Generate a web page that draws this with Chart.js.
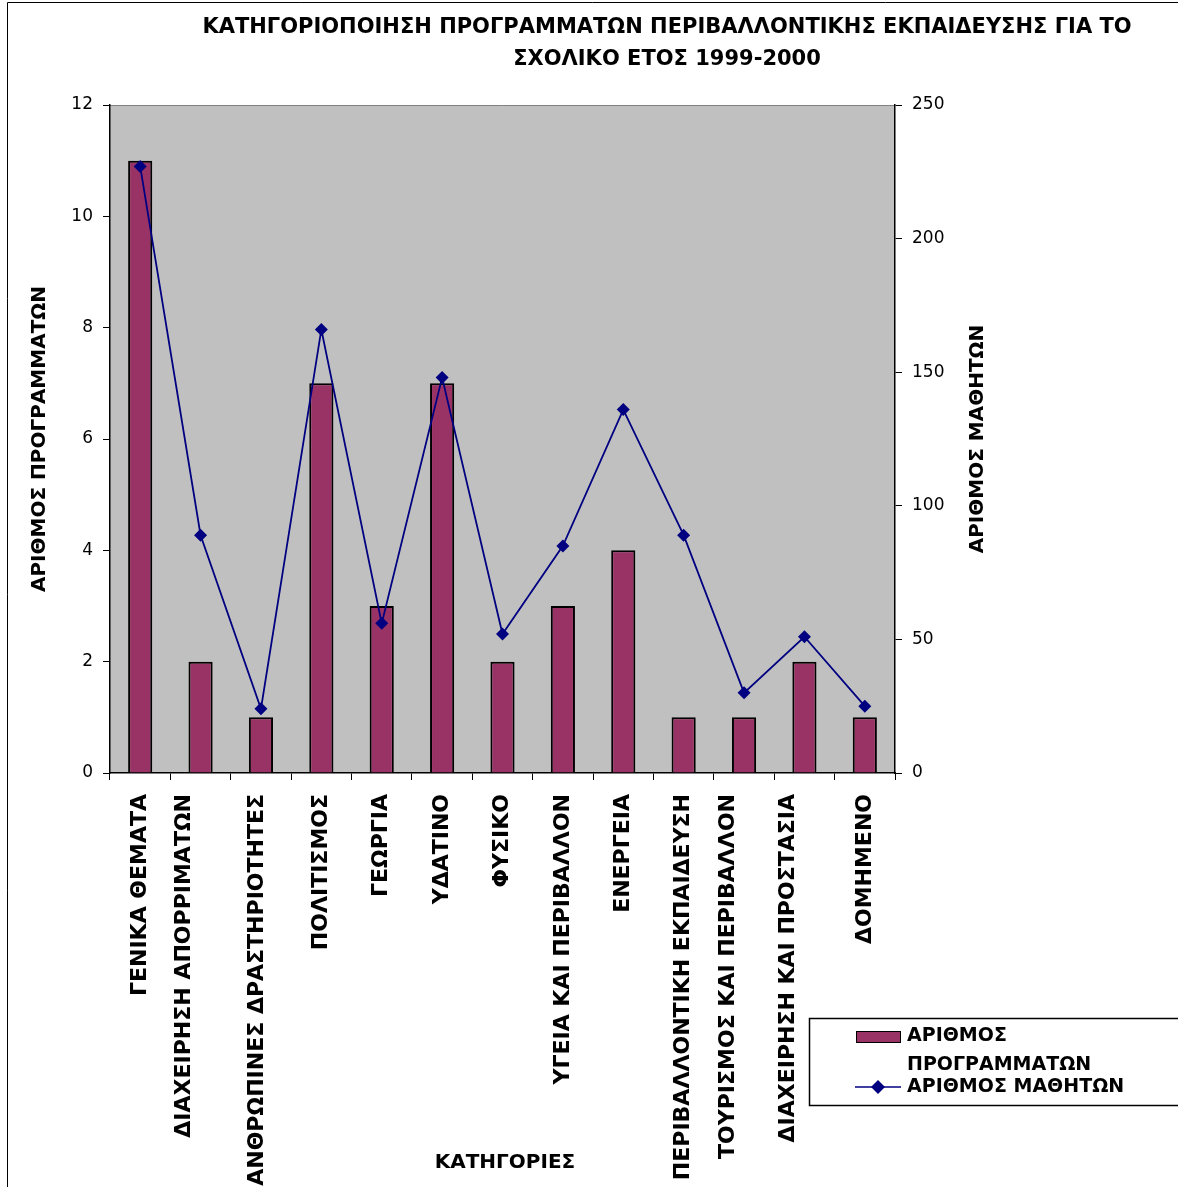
<!DOCTYPE html>
<html>
<head>
<meta charset="utf-8">
<script src="https://cdn.jsdelivr.net/npm/chart.js@4.4.1/dist/chart.umd.min.js"></script>
<style>
    body { margin: 0; background: #fff; }
    #wrap { width: 1178px; height: 1187px; }
</style>
</head>
<body>
<div id="wrap"><canvas id="envChart" width="1178" height="1187"></canvas></div>
<script>
// Categories and values
const categories = [
    'ΓΕΝΙΚΑ ΘΕΜΑΤΑ', 'ΔΙΑΧΕΙΡΗΣΗ ΑΠΟΡΡΙΜΑΤΩΝ', 'ΑΝΘΡΩΠΙΝΕΣ ΔΡΑΣΤΗΡΙΟΤΗΤΕΣ',
    'ΠΟΛΙΤΙΣΜΟΣ', 'ΓΕΩΡΓΙΑ', 'ΥΔΑΤΙΝΟ', 'ΦΥΣΙΚΟ', 'ΥΓΕΙΑ ΚΑΙ ΠΕΡΙΒΑΛΛΟΝ',
    'ΕΝΕΡΓΕΙΑ', 'ΠΕΡΙΒΑΛΛΟΝΤΙΚΗ ΕΚΠΑΙΔΕΥΣΗ', 'ΤΟΥΡΙΣΜΟΣ ΚΑΙ ΠΕΡΙΒΑΛΛΟΝ',
    'ΔΙΑΧΕΙΡΗΣΗ ΚΑΙ ΠΡΟΣΤΑΣΙΑ', 'ΔΟΜΗΜΕΝΟ'
];
const programmes = [11, 2, 1, 7, 3, 7, 2, 3, 4, 1, 1, 2, 1];
const students = [227, 89, 24, 166, 56, 148, 52, 85, 136, 89, 30, 51, 25];

const leftTicks = [0, 2, 4, 6, 8, 10, 12];
const rightTicks = [0, 50, 100, 150, 200, 250];

const titleLines = [
    'ΚΑΤΗΓΟΡΙΟΠΟΙΗΣΗ ΠΡΟΓΡΑΜΜΑΤΩΝ ΠΕΡΙΒΑΛΛΟΝΤΙΚΗΣ ΕΚΠΑΙΔΕΥΣΗΣ ΓΙΑ ΤΟ',
    'ΣΧΟΛΙΚΟ ΕΤΟΣ 1999-2000'
];

// sideways nudge of some category labels, as in the original
const labelShift = [0, -16, -4, 0, 0, 0, 0, 0, 0, 0, -16, -16, 0];

const BAR_COLOR = '#993366';
const LINE_COLOR = '#000080';

/**
 * Draws plot background, outer frame, titles, category labels and the boxed legend
 */
const decorPlugin = {
    id: 'decor',
    beforeDraw(chart) {
        const ctx = chart.ctx;
        const a = chart.chartArea;
        ctx.save();
        ctx.fillStyle = '#fff';
        ctx.fillRect(0, 0, chart.width, chart.height);
        // plot area
        ctx.fillStyle = '#c0c0c0';
        ctx.fillRect(a.left, a.top, a.right - a.left, a.bottom - a.top);
        ctx.strokeStyle = '#808080';
        ctx.lineWidth = 1;
        ctx.beginPath();
        ctx.moveTo(a.left, a.top + 0.5);
        ctx.lineTo(a.right, a.top + 0.5);
        ctx.stroke();
        // outer chart frame
        ctx.strokeStyle = '#000';
        ctx.beginPath();
        ctx.moveTo(7.5, chart.height);
        ctx.lineTo(7.5, 2.5);
        ctx.lineTo(chart.width, 2.5);
        ctx.stroke();
        ctx.restore();
    },
    afterDraw(chart) {
        const ctx = chart.ctx;
        const a = chart.chartArea;
        const xScale = chart.scales.x;
        const midY = (a.top + a.bottom) / 2;
        ctx.save();
        ctx.fillStyle = '#000';
        ctx.textAlign = 'center';
        ctx.textBaseline = 'middle';

        // title
        ctx.font = 'bold 21px "DejaVu Sans"';
        ctx.fillText(titleLines[0], 667, 28);
        ctx.fillText(titleLines[1], 667, 60);

        // category labels, rotated, reading upwards
        ctx.font = 'bold 22px "DejaVu Sans"';
        ctx.textAlign = 'right';
        categories.forEach(function(label, i) {
            ctx.save();
            ctx.translate(xScale.getPixelForValue(i) + labelShift[i], a.bottom + 21);
            ctx.rotate(-Math.PI / 2);
            ctx.fillText(label, 0, 0);
            ctx.restore();
        });
        ctx.textAlign = 'center';

        // axis titles
        ctx.font = 'bold 20px "DejaVu Sans"';
        ctx.save();
        ctx.translate(40, midY);
        ctx.rotate(-Math.PI / 2);
        ctx.fillText('ΑΡΙΘΜΟΣ ΠΡΟΓΡΑΜΜΑΤΩΝ', 0, 0);
        ctx.restore();

        ctx.save();
        ctx.translate(978, midY);
        ctx.rotate(-Math.PI / 2);
        ctx.fillText('ΑΡΙΘΜΟΣ ΜΑΘΗΤΩΝ', 0, 0);
        ctx.restore();

        ctx.fillText('ΚΑΤΗΓΟΡΙΕΣ', 505, 1163);

        // legend box
        ctx.fillStyle = '#fff';
        ctx.fillRect(809, 1018, 380, 87);
        ctx.strokeStyle = '#000';
        ctx.lineWidth = 1.5;
        ctx.strokeRect(809.5, 1018.5, 380, 87);

        ctx.lineWidth = 1;
        ctx.fillStyle = BAR_COLOR;
        ctx.fillRect(856, 1031, 44, 11);
        ctx.strokeRect(856.5, 1031.5, 44, 11);

        ctx.strokeStyle = LINE_COLOR;
        ctx.lineWidth = 1.5;
        ctx.beginPath();
        ctx.moveTo(855, 1087);
        ctx.lineTo(901, 1087);
        ctx.stroke();
        ctx.fillStyle = LINE_COLOR;
        ctx.beginPath();
        ctx.moveTo(878, 1080);
        ctx.lineTo(885, 1087);
        ctx.lineTo(878, 1094);
        ctx.lineTo(871, 1087);
        ctx.closePath();
        ctx.fill();

        ctx.fillStyle = '#000';
        ctx.font = 'bold 19px "DejaVu Sans"';
        ctx.textAlign = 'left';
        ctx.fillText('ΑΡΙΘΜΟΣ', 907, 1036);
        ctx.fillText('ΠΡΟΓΡΑΜΜΑΤΩΝ', 907, 1065);
        ctx.fillText('ΑΡΙΘΜΟΣ ΜΑΘΗΤΩΝ', 907, 1087);
        ctx.restore();
    }
};

const ctx = document.getElementById('envChart');

new Chart(ctx, {
    type: 'bar',
    data: {
        labels: categories,
        datasets: [
            {
                type: 'line',
                label: 'ΑΡΙΘΜΟΣ ΜΑΘΗΤΩΝ',
                data: students,
                yAxisID: 'y1',
                borderColor: LINE_COLOR,
                backgroundColor: LINE_COLOR,
                borderWidth: 1.8,
                pointStyle: 'rectRot',
                pointRadius: 6.5,
                pointBorderWidth: 0,
                tension: 0,
                order: 1
            },
            {
                type: 'bar',
                label: 'ΑΡΙΘΜΟΣ ΠΡΟΓΡΑΜΜΑΤΩΝ',
                data: programmes,
                yAxisID: 'y',
                backgroundColor: BAR_COLOR,
                borderColor: '#000',
                borderWidth: 2,
                categoryPercentage: 1,
                barPercentage: 0.4,
                order: 2
            }
        ]
    },
    options: {
        responsive: false,
        animation: false,
        devicePixelRatio: 1,
        layout: {
            padding: { top: 105, left: 0, right: 100, bottom: 0 }
        },
        plugins: {
            legend: { display: false },
            title: { display: false },
            tooltip: { enabled: false }
        },
        scales: {
            x: {
                offset: true,
                grid: {
                    offset: true,
                    drawOnChartArea: false,
                    color: '#000',
                    tickLength: 7
                },
                border: { color: '#000', width: 1.5 },
                ticks: { display: false },
                afterFit(scale) { scale.height = 414; }
            },
            y: {
                position: 'left',
                min: 0,
                max: 12,
                afterBuildTicks(scale) { scale.ticks = leftTicks.map(v => ({ value: v })); },
                grid: { drawOnChartArea: false, color: '#000', tickLength: 7 },
                border: { color: '#000', width: 1.5 },
                ticks: {
                    padding: 10,
                    color: '#000',
                    font: { family: 'DejaVu Sans', size: 17 }
                },
                afterFit(scale) { scale.width = 110; }
            },
            y1: {
                position: 'right',
                min: 0,
                max: 250,
                afterBuildTicks(scale) { scale.ticks = rightTicks.map(v => ({ value: v })); },
                grid: { drawOnChartArea: false, color: '#000', tickLength: 7 },
                border: { color: '#000', width: 1.5 },
                ticks: {
                    padding: 10,
                    color: '#000',
                    font: { family: 'DejaVu Sans', size: 17 }
                },
                afterFit(scale) { scale.width = 1178 - 895 - 100; }
            }
        }
    },
    plugins: [decorPlugin]
});
</script>
</body>
</html>
